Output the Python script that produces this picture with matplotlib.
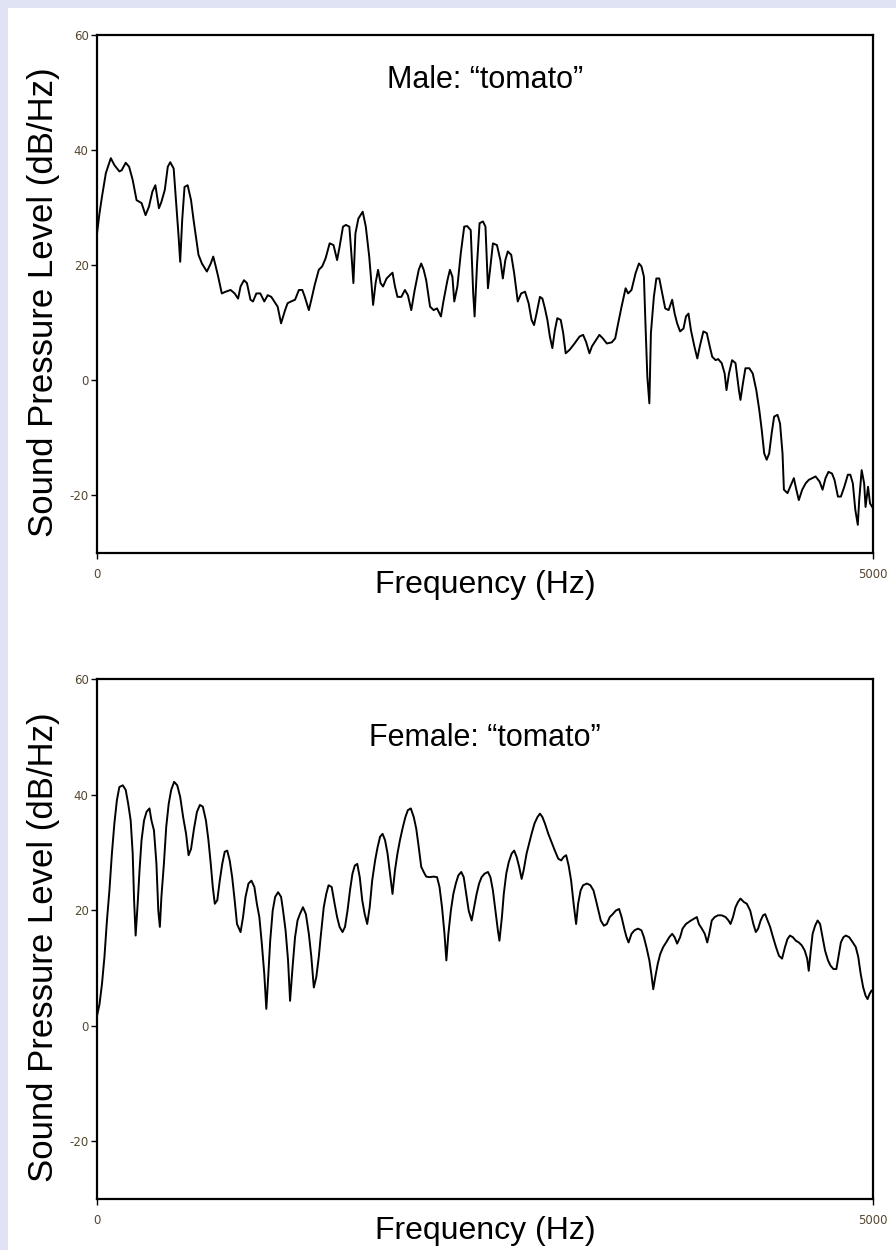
import matplotlib
matplotlib.use("Agg")
import matplotlib.pyplot as plt
from matplotlib.patches import Rectangle

plt.rcParams["axes.unicode_minus"] = False

# Male "tomato" spectrum (Hz, dB/Hz)
male_freq = [0, 16, 32, 57, 89, 112, 144, 159, 185, 207, 230, 255, 287, 313, 335, 357, 376, 399, 415, 437,
             456, 472, 494, 510, 526, 536, 549, 564, 584, 606, 622, 638, 654, 676, 708, 733, 749, 765, 781, 804,
             829, 861, 887, 909, 925, 947, 966, 989, 1005, 1027, 1052, 1078, 1100, 1123, 1142, 1164, 1186, 1212, 1228, 1250,
             1276, 1301, 1323, 1339, 1365, 1381, 1403, 1429, 1451, 1473, 1499, 1524, 1547, 1563, 1585, 1604, 1626, 1642, 1652, 1665,
             1684, 1712, 1732, 1754, 1770, 1779, 1795, 1811, 1827, 1843, 1866, 1888, 1904, 1920, 1936, 1961, 1984, 2003, 2025, 2047,
             2073, 2089, 2105, 2121, 2146, 2169, 2191, 2216, 2232, 2258, 2274, 2290, 2302, 2322, 2344, 2366, 2385, 2408, 2424, 2433,
             2449, 2465, 2487, 2503, 2519, 2535, 2551, 2577, 2599, 2615, 2631, 2647, 2669, 2688, 2711, 2733, 2758, 2781, 2800, 2816,
             2832, 2854, 2870, 2886, 2902, 2918, 2934, 2950, 2966, 2988, 3004, 3020, 3045, 3077, 3109, 3132, 3151, 3173, 3189, 3215,
             3237, 3259, 3285, 3317, 3339, 3358, 3380, 3406, 3422, 3444, 3470, 3492, 3508, 3524, 3533, 3546, 3559, 3569, 3588, 3604,
             3623, 3642, 3661, 3683, 3706, 3722, 3738, 3757, 3779, 3795, 3811, 3827, 3849, 3868, 3884, 3907, 3929, 3948, 3964, 3986,
             4002, 4025, 4044, 4056, 4072, 4092, 4114, 4136, 4146, 4162, 4178, 4203, 4225, 4248, 4267, 4283, 4299, 4315, 4331, 4347,
             4363, 4385, 4401, 4417, 4426, 4449, 4471, 4490, 4506, 4522, 4544, 4566, 4586, 4608, 4630, 4656, 4675, 4694, 4713, 4736,
             4752, 4774, 4793, 4815, 4838, 4854, 4870, 4886, 4902, 4911, 4927, 4943, 4952, 4968, 4981, 5000]
male_db = [25.5, 29.0, 31.9, 36.0, 38.6, 37.4, 36.3, 36.5, 37.8, 37.1, 34.8, 31.3, 30.8, 28.7, 30.2, 32.8, 33.9, 29.9, 31.0, 33.1,
           37.1, 37.9, 36.8, 30.8, 24.9, 20.6, 27.9, 33.6, 33.9, 31.3, 27.9, 24.9, 21.8, 20.3, 18.9, 20.3, 21.5, 19.8, 18.0, 15.1,
           15.4, 15.7, 15.1, 14.2, 16.3, 17.4, 16.9, 14.0, 13.7, 15.1, 15.1, 13.7, 14.8, 14.5, 13.7, 12.8, 9.9, 12.2, 13.4, 13.7,
           14.0, 15.7, 15.7, 14.5, 12.2, 14.0, 16.6, 19.2, 19.8, 21.2, 23.8, 23.5, 20.9, 23.2, 26.7, 27.0, 26.7, 20.9, 16.9, 25.5,
           28.1, 29.3, 26.7, 21.5, 16.3, 13.1, 16.9, 19.2, 16.9, 16.3, 17.7, 18.3, 18.7, 16.3, 14.5, 14.5, 15.7, 14.8, 12.2, 15.7,
           19.2, 20.3, 19.2, 17.4, 12.8, 12.2, 12.5, 11.1, 13.7, 17.4, 19.2, 18.0, 13.7, 16.3, 22.1, 26.7, 26.8, 26.1, 15.1, 11.1,
           20.3, 27.3, 27.6, 26.7, 16.0, 19.8, 23.8, 23.5, 20.9, 17.7, 20.9, 22.4, 21.8, 18.6, 13.7, 15.1, 15.4, 13.4, 10.5, 9.6,
           11.6, 14.5, 14.2, 12.5, 10.5, 7.6, 5.6, 8.7, 10.8, 10.5, 8.2, 4.7, 5.3, 6.4, 7.6, 7.9, 6.7, 4.7, 5.9, 7.0,
           7.9, 7.3, 6.4, 6.6, 7.3, 9.9, 12.8, 16.0, 15.1, 15.7, 18.6, 20.3, 19.8, 18.0, 10.5, 0.6, -4.0, 8.2, 14.5, 17.7,
           17.7, 15.1, 12.5, 12.2, 14.0, 11.6, 9.9, 8.5, 9.0, 11.1, 11.6, 8.7, 5.9, 3.8, 5.9, 8.5, 8.2, 5.9, 4.1, 3.5,
           3.7, 3.0, 1.2, -1.7, 1.2, 3.5, 3.0, -1.7, -3.4, -0.5, 2.1, 2.1, 1.2, -1.7, -5.1, -8.6, -12.7, -13.8, -12.7, -9.2,
           -6.3, -6.0, -7.5, -12.7, -19.0, -19.6, -18.2, -17.0, -19.0, -20.8, -19.0, -17.9, -17.3, -17.0, -16.7, -17.6, -19.0, -17.0, -15.9, -16.2,
           -17.3, -20.2, -20.2, -18.5, -16.4, -16.4, -17.9, -22.5, -25.1, -20.8, -15.6, -17.9, -22.0, -18.5, -21.4, -22.2]

# Female "tomato" spectrum
female_freq = [0, 16, 32, 48, 64, 80, 96, 112, 128, 144, 166, 185, 201, 217, 230, 239, 249, 262, 274, 287,
               303, 319, 338, 351, 367, 383, 395, 405, 415, 431, 446, 462, 478, 497, 517, 536, 555, 574, 590, 606,
               625, 644, 663, 682, 702, 718, 733, 746, 759, 775, 791, 807, 823, 839, 855, 871, 887, 902, 925, 941,
               957, 976, 995, 1014, 1030, 1046, 1062, 1078, 1091, 1103, 1116, 1132, 1148, 1167, 1186, 1199, 1215, 1231, 1244, 1260,
               1276, 1292, 1307, 1327, 1346, 1365, 1381, 1397, 1413, 1429, 1441, 1461, 1477, 1492, 1512, 1531, 1547, 1563, 1582, 1598,
               1614, 1630, 1646, 1661, 1677, 1693, 1709, 1725, 1741, 1757, 1773, 1792, 1808, 1824, 1840, 1856, 1872, 1888, 1904, 1920,
               1936, 1952, 1971, 1987, 2003, 2022, 2041, 2057, 2073, 2089, 2105, 2121, 2143, 2169, 2191, 2207, 2223, 2239, 2251, 2264,
               2280, 2296, 2312, 2328, 2347, 2363, 2379, 2395, 2414, 2430, 2446, 2462, 2478, 2497, 2519, 2535, 2551, 2567, 2583, 2593,
               2609, 2621, 2637, 2653, 2672, 2688, 2704, 2720, 2736, 2749, 2768, 2784, 2800, 2819, 2838, 2854, 2870, 2886, 2908, 2928,
               2950, 2972, 2991, 3007, 3023, 3039, 3055, 3071, 3087, 3100, 3116, 3132, 3157, 3179, 3199, 3215, 3231, 3246, 3266, 3285,
               3304, 3323, 3342, 3364, 3380, 3400, 3412, 3425, 3444, 3463, 3486, 3508, 3524, 3540, 3559, 3572, 3584, 3597, 3613, 3629,
               3648, 3667, 3687, 3706, 3722, 3738, 3757, 3773, 3795, 3811, 3827, 3846, 3865, 3878, 3897, 3916, 3932, 3945, 3961, 3980,
               4002, 4025, 4050, 4069, 4082, 4098, 4114, 4130, 4146, 4168, 4187, 4209, 4229, 4245, 4260, 4276, 4292, 4305, 4321, 4337,
               4356, 4375, 4394, 4414, 4433, 4449, 4465, 4484, 4503, 4522, 4541, 4560, 4576, 4586, 4599, 4611, 4627, 4643, 4659, 4675,
               4691, 4710, 4726, 4745, 4764, 4777, 4793, 4809, 4825, 4847, 4870, 4889, 4905, 4921, 4937, 4952, 4965, 4978, 4991, 5000]
female_db = [1.7, 3.7, 7.2, 11.9, 18.2, 23.4, 29.8, 35.0, 39.0, 41.3, 41.6, 40.8, 38.4, 35.5, 29.8, 21.7, 15.6, 21.1, 26.9, 32.1,
             35.5, 37.0, 37.6, 35.5, 33.8, 28.0, 19.9, 17.1, 22.3, 28.0, 34.4, 38.4, 40.8, 42.2, 41.6, 39.6, 36.1, 33.2, 29.5, 30.6,
             34.1, 37.0, 38.2, 37.9, 35.5, 32.1, 28.0, 24.0, 21.1, 21.7, 25.1, 28.0, 30.1, 30.3, 28.6, 25.7, 21.7, 17.6, 16.2, 18.8,
             22.3, 24.6, 25.1, 24.0, 21.1, 18.8, 14.2, 8.9, 2.9, 8.4, 14.7, 19.9, 22.3, 23.1, 22.3, 19.9, 16.5, 11.3, 4.3, 10.1,
             15.3, 18.2, 19.3, 20.5, 19.3, 15.9, 11.9, 6.6, 8.4, 11.9, 15.3, 20.5, 22.8, 24.3, 24.0, 21.1, 18.8, 17.1, 16.2, 17.1,
             19.9, 23.4, 26.3, 27.7, 28.0, 25.7, 21.7, 19.3, 17.6, 20.5, 25.1, 28.6, 30.9, 32.7, 33.2, 32.1, 29.8, 26.3, 22.8, 26.9,
             29.8, 32.1, 34.4, 36.1, 37.3, 37.6, 36.1, 34.1, 30.9, 27.5, 26.6, 25.8, 25.7, 25.8, 25.7, 24.0, 20.5, 15.9, 11.3, 15.9,
             19.9, 22.8, 24.6, 26.0, 26.6, 25.7, 22.8, 19.9, 18.2, 20.5, 22.8, 24.6, 25.7, 26.3, 26.6, 25.7, 23.4, 19.9, 16.5, 14.7,
             18.8, 22.8, 26.3, 28.3, 29.8, 30.3, 29.2, 27.5, 25.4, 26.9, 29.8, 31.5, 33.2, 35.0, 36.1, 36.7, 36.1, 35.0, 33.2, 31.8,
             30.3, 28.9, 28.6, 29.2, 29.5, 27.7, 25.1, 21.1, 17.6, 21.1, 23.4, 24.3, 24.6, 24.3, 23.4, 21.7, 19.9, 18.2, 17.3, 17.6,
             18.8, 19.3, 19.9, 20.2, 18.8, 16.5, 15.3, 14.4, 15.9, 16.5, 16.8, 16.5, 15.3, 13.6, 11.3, 8.9, 6.3, 8.4, 10.7, 12.4,
             13.6, 14.4, 15.3, 15.9, 15.3, 14.2, 15.3, 16.8, 17.6, 17.9, 18.2, 18.5, 18.8, 17.6, 16.8, 15.9, 14.4, 15.9, 18.2, 18.8,
             19.1, 19.1, 18.8, 18.2, 17.6, 18.8, 20.5, 21.4, 22.0, 21.4, 21.1, 19.9, 17.6, 16.2, 16.8, 18.2, 19.1, 19.3, 18.2, 17.1,
             15.3, 13.6, 12.1, 11.6, 13.6, 15.0, 15.6, 15.3, 14.7, 14.4, 13.9, 13.0, 11.6, 9.5, 13.0, 15.9, 17.3, 18.2, 17.6, 15.3,
             13.0, 11.3, 10.4, 9.8, 9.8, 11.9, 14.4, 15.3, 15.6, 15.3, 14.4, 13.6, 11.9, 8.9, 6.6, 5.2, 4.6, 5.5, 6.1, 5.8]

titles = ["Male: \u201ctomato\u201d", "Female: \u201ctomato\u201d"]
yticks = [-20, 0, 20, 40, 60]
xticks = [0, 5000]

fig = plt.figure(figsize=(8.96, 12.5), dpi=100)
fig.patch.set_facecolor("#e0e3f3")
fig.patches.append(Rectangle((8 / 896, 0), 1, 1 - 8 / 1250, transform=fig.transFigure,
                             facecolor="white", edgecolor="none", zorder=-10))

tick_col = "#54472f"
label_font = "Liberation Sans"

panels = [
    (fig.add_axes([97 / 896, 1 - 553 / 1250, 776 / 896, 518 / 1250]), male_freq, male_db, titles[0], 0.913),
    (fig.add_axes([97 / 896, 1 - 1199 / 1250, 776 / 896, 520 / 1250]), female_freq, female_db, titles[1], 0.886),
]

for ax, f, db, title, ty in panels:
    ax.plot(f, db, color="black", lw=1.4)
    ax.set_xlim(0, 5000)
    ax.set_ylim(-30, 60)
    ax.set_yticks(yticks)
    ax.set_xticks(xticks)
    ax.tick_params(length=4, width=1, pad=2, labelsize=8.5, labelcolor=tick_col)
    ax.tick_params(axis="x", pad=7)
    for s in ax.spines.values():
        s.set_linewidth(1.6)
    ax.text(0.5, ty, title, transform=ax.transAxes, ha="center", va="center",
            fontsize=22, family=label_font)
    ax.set_ylabel("Sound Pressure Level (dB/Hz)", fontsize=25, family=label_font)
    ax.yaxis.set_label_coords(-0.048, 0.485)
    ax.set_xlabel("Frequency (Hz)", fontsize=23, family=label_font, labelpad=-8)

fig.savefig("out.png", dpi=100, facecolor=fig.get_facecolor())
